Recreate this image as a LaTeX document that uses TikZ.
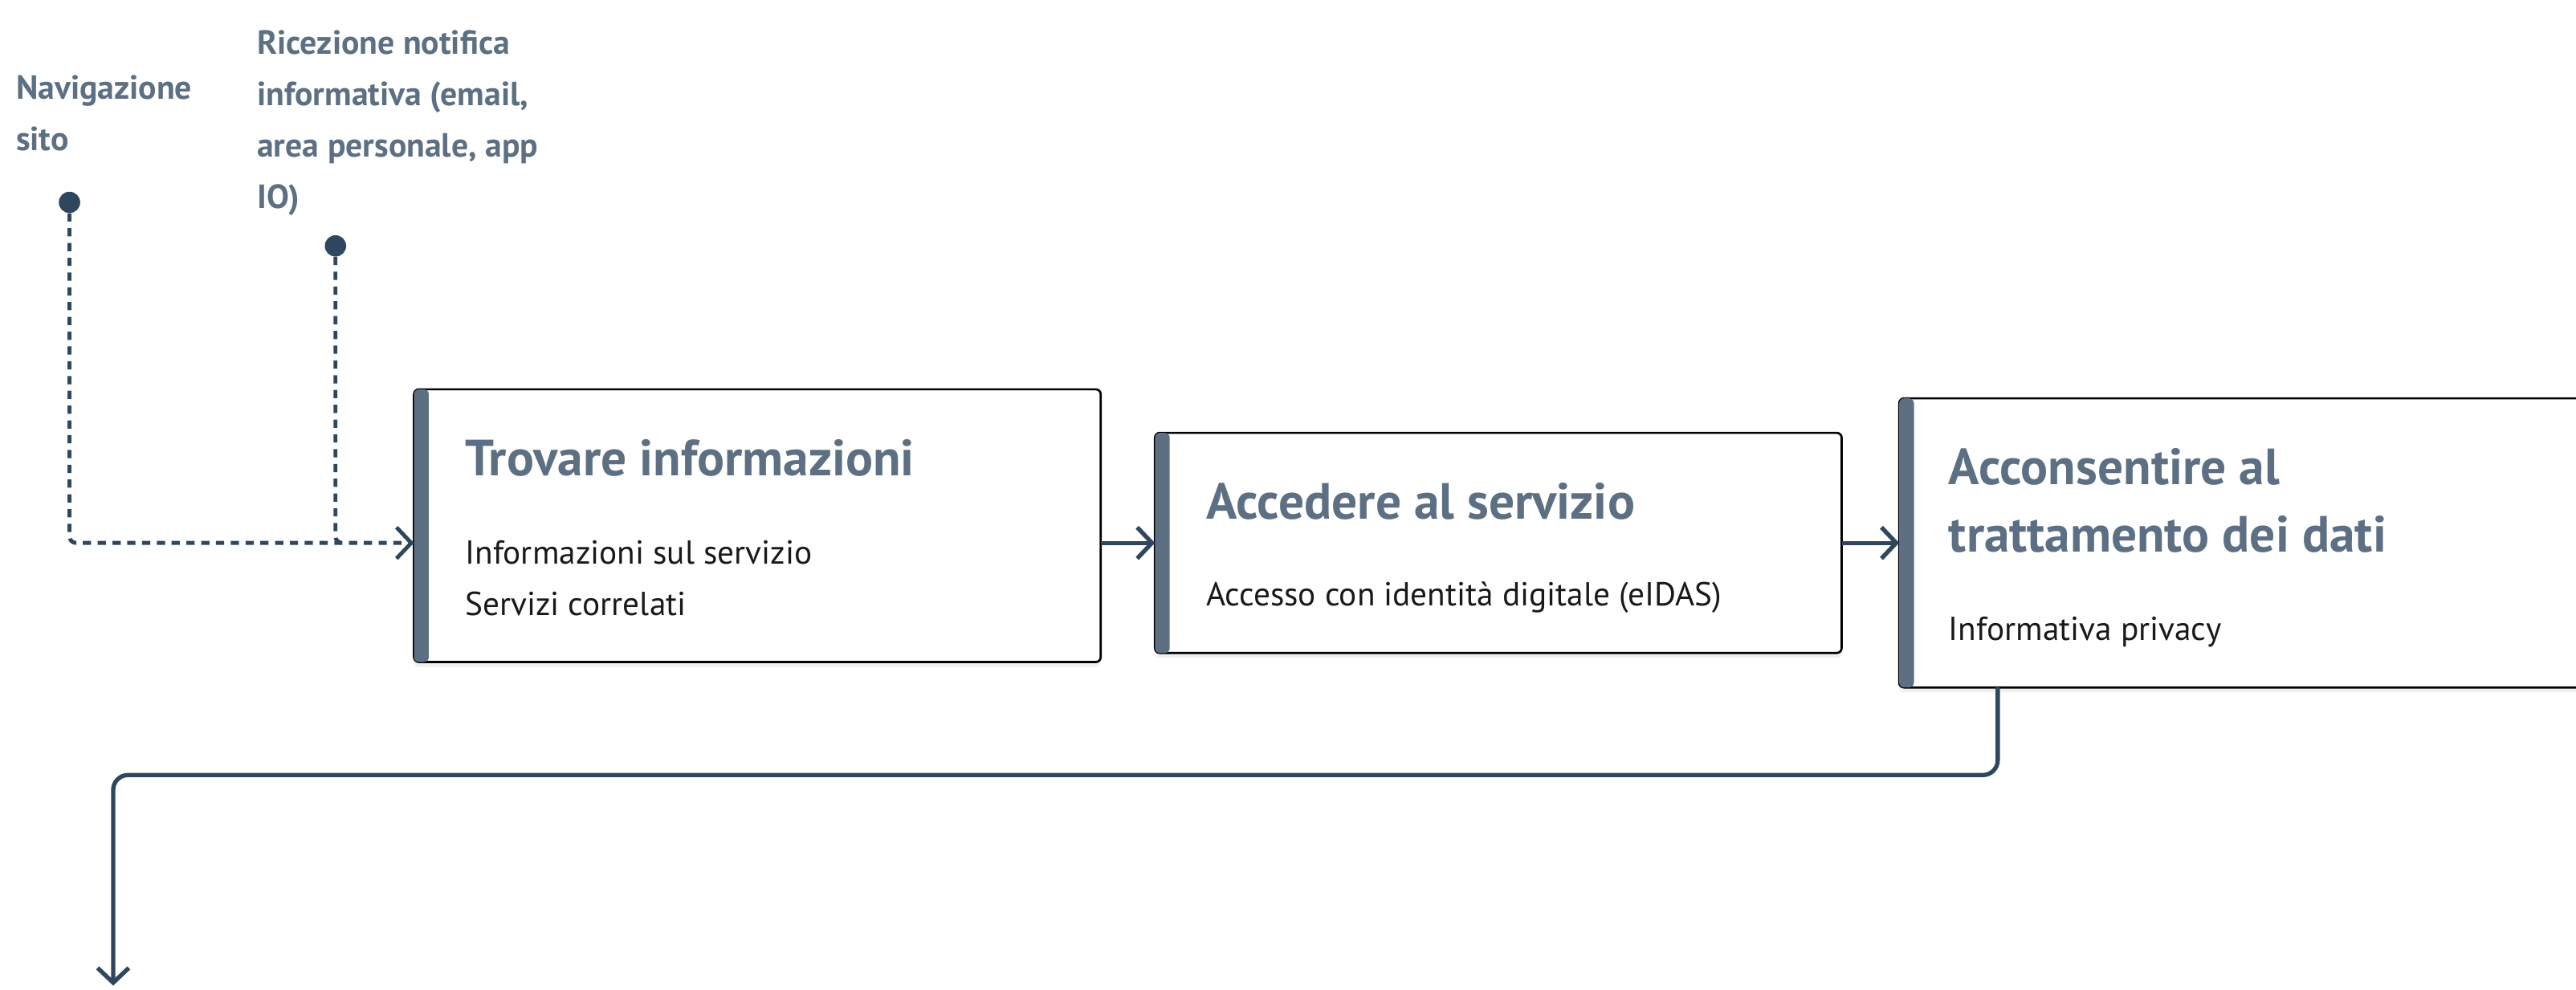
\documentclass[tikz,border=0pt]{standalone}
\usepackage{fontspec}
\setmainfont{PT Sans}
\usepackage{tikz}
\usetikzlibrary{arrows.meta,positioning,shadows}
\definecolor{slate}{HTML}{5D7083}
\definecolor{navy}{HTML}{2F475E}
\definecolor{ink}{HTML}{191919}
\tikzstyle{phase} = [rectangle, rounded corners=3pt, minimum width=418pt, outer sep=0pt, draw=black, line width=1.3pt, fill=white, drop shadow={opacity=0.12, shadow xshift=0pt, shadow yshift=-3pt}]
\tikzstyle{heading} = [anchor=base west, inner sep=0pt, align=left, text=slate, font=\fontsize{31}{41}\selectfont\bfseries]
\tikzstyle{body} = [anchor=base west, inner sep=0pt, align=left, text=ink, font=\fontsize{20.2}{31}\selectfont]
\tikzstyle{touch} = [anchor=base west, inner sep=0pt, align=left, text=slate, font=\fontsize{20.4}{31.2}\selectfont\bfseries]
\tikzstyle{dot} = [circle, fill=navy, inner sep=0pt, minimum size=13pt]
\tikzstyle{link} = [line width=2.6pt, draw=navy, ->, >={Straight Barb[length=9pt,width=19pt]}]
\tikzstyle{dashlink} = [line width=2.4pt, draw=navy, dash pattern=on 5pt off 4pt, rounded corners=4pt]

\begin{document}
\begin{tikzpicture}[x=1pt, y=1pt, node distance=33pt]
\useasboundingbox (0,0) rectangle (1568,-602.2);
\clip (0,0) rectangle (1568,-602.2);

\node (nav) [touch] at (9.6,-91.4) {Navigazione\\sito};
\node (nav-dot) [dot] at (42.3,-123.2) {};

\node (notif) [touch] at (156.3,-126.6) {Ricezione notifica\\informativa (email,\\area personale, app\\IO)};
\node (notif-dot) [dot] at (204.2,-149.7) {};

\node (trov) [phase, minimum height=166pt] at (461,-320) {};
\fill [slate, rounded corners=3pt] (trov.north west) rectangle ([xshift=9pt]trov.south west);
\node (trov-title) [heading] at ([xshift=31pt, yshift=-52.5pt]trov.north west) {Trovare informazioni};
\node (trov-text) [body] at ([yshift=-85pt]trov-title.base west) {Informazioni sul servizio\\Servizi correlati};

\node (acc) [phase, minimum height=134pt, right=of trov, yshift=-10.5pt] {};
\fill [slate, rounded corners=3pt] (acc.north west) rectangle ([xshift=9pt]acc.south west);
\node (acc-title) [heading] at ([xshift=31pt, yshift=-52.5pt]acc.north west) {Accedere al servizio};
\node (acc-text) [body] at ([yshift=-53pt]acc-title.base west) {Accesso con identità digitale (eIDAS)};
\draw [link] (trov.east |- acc.west) -- (acc.west);

\node (cons) [phase, minimum height=176pt, right=35pt of acc] {};
\fill [slate, rounded corners=3pt] (cons.north west) rectangle ([xshift=9pt]cons.south west);
\node (cons-title) [heading] at ([xshift=30pt, yshift=-93.5pt]cons.north west) {Acconsentire al\\trattamento dei dati};
\node (cons-text) [body] at ([yshift=-54pt]cons-title.base west) {Informativa privacy};
\draw [link] (acc.east) -- (cons.west);

% entry points
\coordinate (trov-in) at (trov.west |- acc.west);
\draw [dashlink, ->, >={Straight Barb[length=9pt,width=19pt]}] (nav-dot) |- (trov-in);
\draw [dashlink] (notif-dot) |- ([xshift=5pt]notif-dot |- trov-in);

\coordinate (next) at (68.9,-600);
\draw [link, rounded corners=9pt] ([xshift=60pt]cons.south west) -- ++(0,-53.3) -| (next);

\end{tikzpicture}
\end{document}
